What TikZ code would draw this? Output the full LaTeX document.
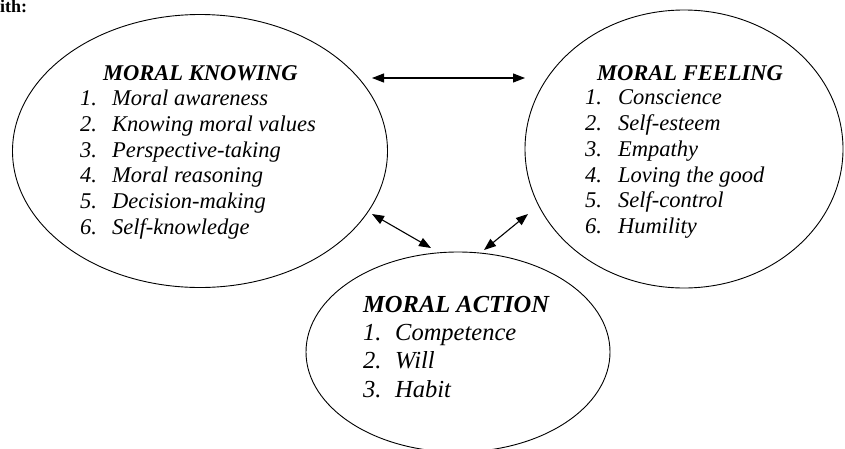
\documentclass[tikz,border=0pt]{standalone}
\usepackage{fontspec}
\setmainfont{Liberation Serif}
\usetikzlibrary{shapes.geometric,arrows.meta}
\tikzset{
  oval/.style={draw, ellipse, line width=0.9pt, inner sep=0pt},
  headA/.style={anchor=base west, inner sep=0pt, font=\fontsize{22.5}{26}\selectfont\bfseries\itshape},
  itemA/.style={anchor=base west, inner sep=0pt, font=\fontsize{22.5}{26}\selectfont\itshape},
  headB/.style={anchor=base west, inner sep=0pt, font=\fontsize{24.5}{28}\selectfont\bfseries\itshape},
  itemB/.style={anchor=base west, inner sep=0pt, font=\fontsize{24.5}{28}\selectfont\itshape},
  link/.style={{Triangle[length=12pt,width=9pt]}-{Triangle[length=12pt,width=9pt]}, line width=1.1pt}
}
\begin{document}
\begin{tikzpicture}[x=1pt,y=-1pt]
\useasboundingbox (0,0) rectangle (845,448);
% cut-off text at top-left
\node[anchor=base west, inner sep=0pt, font=\fontsize{18}{20}\selectfont\bfseries] (cut) at (0,12.5) {ith:};
% ellipses
\node[oval, minimum width=375pt, minimum height=273pt] (know) at (200,151) {};
\node[oval, minimum width=318pt, minimum height=278pt] (feel) at (684,149) {};
\node[oval, minimum width=304pt, minimum height=200pt] (act) at (458,352) {};
% moral knowing
\node[headA] (kh) at (103,80) {MORAL KNOWING};
\node[itemA] (kn1) at (80,105) {1.}; \node[itemA] (kt1) at (112,105) {Moral awareness};
\node[itemA] (kn2) at (80,131) {2.}; \node[itemA] (kt2) at (112,131) {Knowing moral values};
\node[itemA] (kn3) at (80,157) {3.}; \node[itemA] (kt3) at (112,157) {Perspective-taking};
\node[itemA] (kn4) at (80,182) {4.}; \node[itemA] (kt4) at (112,182) {Moral reasoning};
\node[itemA] (kn5) at (80,208) {5.}; \node[itemA] (kt5) at (112,208) {Decision-making};
\node[itemA] (kn6) at (80,234) {6.}; \node[itemA] (kt6) at (112,234) {Self-knowledge};
% moral feeling
\node[headA] (fh) at (597,80) {MORAL FEELING};
\node[itemA] (fn1) at (585,104) {1.}; \node[itemA] (ft1) at (618,104) {Conscience};
\node[itemA] (fn2) at (585,130) {2.}; \node[itemA] (ft2) at (618,130) {Self-esteem};
\node[itemA] (fn3) at (585,156) {3.}; \node[itemA] (ft3) at (618,156) {Empathy};
\node[itemA] (fn4) at (585,182) {4.}; \node[itemA] (ft4) at (618,182) {Loving the good};
\node[itemA] (fn5) at (585,207) {5.}; \node[itemA] (ft5) at (618,207) {Self-control};
\node[itemA] (fn6) at (585,233) {6.}; \node[itemA] (ft6) at (618,233) {Humility};
% moral action
\node[headB] (ah) at (363,312) {MORAL ACTION};
\node[itemB] (an1) at (363,340) {1.}; \node[itemB] (at1) at (395,340) {Competence};
\node[itemB] (an2) at (363,368) {2.}; \node[itemB] (at2) at (395,368) {Will};
\node[itemB] (an3) at (363,397) {3.}; \node[itemB] (at3) at (395,397) {Habit};
% arrow ends
\coordinate (t1) at (372,78);
\coordinate (t2) at (525,78);
\coordinate (l1) at (372,214);
\coordinate (l2) at (431,248);
\coordinate (r1) at (484,250);
\coordinate (r2) at (528,214);
\draw[link] (t1) -- (t2);
\draw[link] (l1) -- (l2);
\draw[link] (r1) -- (r2);
\end{tikzpicture}
\end{document}
